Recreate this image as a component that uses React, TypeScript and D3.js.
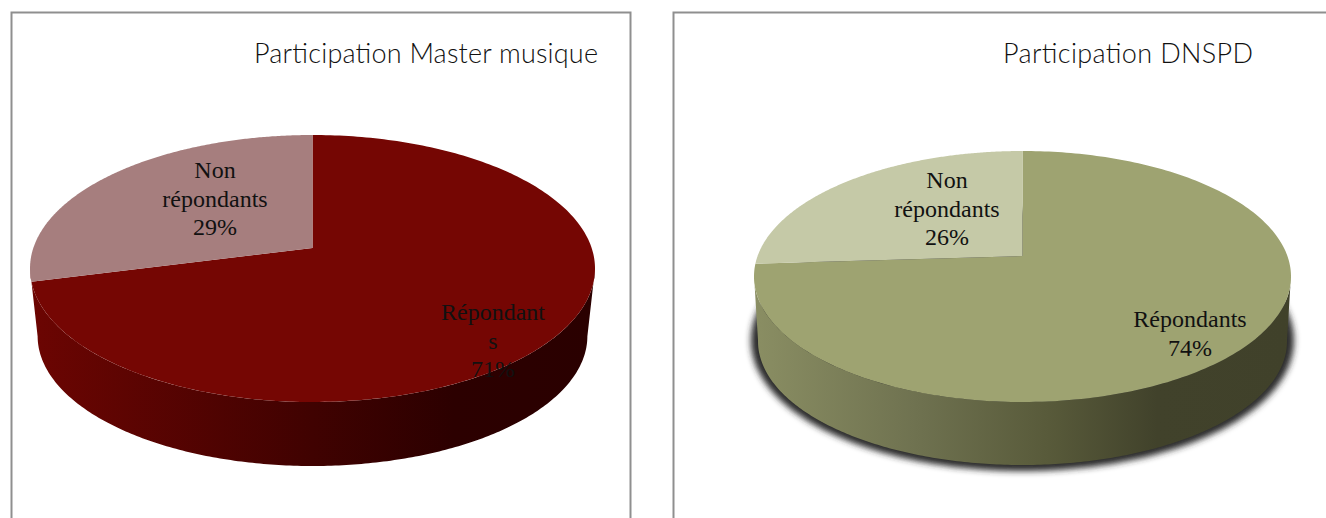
import React from "react";
import * as d3 from "d3";

// Values
const segments = ["Répondants", "Non répondants"];
const masterValues = [71, 29];
const dnspdValues = [74, 26];
const masterLabels = [["Répondant", "s", "71%"], ["Non", "répondants", "29%"]];
const dnspdLabels = [["Répondants", "74%"], ["Non", "répondants", "26%"]];

const WIDTH = 1326;
const HEIGHT = 518;
const SERIF = "'Liberation Serif', serif";
const TITLE_FONT = "Lato, 'Open Sans', sans-serif";

// Layout of the two tilted pies (apex = projected centre of the top face)
const masterPie = {
  id: "master",
  title: "Participation Master musique",
  titleX: 254,
  titleWidth: 344,
  titleY: 63,
  cx: 312.5,
  back: 135,
  apex: 248,
  front: 402,
  rx: 282.5,
  wallBottom: 466,
  wallScale: 0.973,
  colors: ["#750603", "#a67e7e"],
  wallStops: [["0%", "#6c0502"], ["50%", "#400201"], ["75%", "#2c0000"], ["100%", "#2a0000"]],
  shadow: false,
  labelPos: [[493, 320], [215, 178]],
};
const dnspdPie = {
  id: "dnspd",
  title: "Participation DNSPD",
  titleX: 1003,
  titleWidth: 250,
  titleY: 63,
  cx: 1022.5,
  back: 151,
  apex: 256,
  front: 402,
  rx: 268.5,
  wallBottom: 465,
  wallScale: 0.985,
  colors: ["#9ea371", "#c5c9a7"],
  wallStops: [["0%", "#8a8e63"], ["30%", "#6f7250"], ["55%", "#585a3a"], ["75%", "#41422b"], ["100%", "#40412a"]],
  shadow: true,
  labelPos: [[1190, 327], [947, 188]],
};

// Perspective projection of the unit circle: v = -1 back, v = 1 front
function projector(p: typeof masterPie) {
  const c = (2 * p.apex - p.back - p.front) / (p.front - p.back);
  const a = p.front + p.front * c - p.apex;
  const k = p.rx * Math.sqrt(1 - c * c);
  return (theta: number) => {
    const u = Math.sin(theta);
    const v = -Math.cos(theta);
    const w = 1 + c * v;
    return { dx: (k * u) / w, y: (a * v + p.apex) / w };
  };
}

const line = d3.line().curve(d3.curveLinear);
const samples = (from: number, to: number) =>
  d3.range(0, 241).map((i) => from + ((to - from) * i) / 240);

function TiltedPie({ p, values, labels }: { p: typeof masterPie; values: number[]; labels: string[][] }) {
  const at = projector(p);
  const arcs = d3.pie<number>().sort(null)(values);

  const top = (t: number): [number, number] => {
    const q = at(t);
    return [p.cx + q.dx, q.y];
  };
  const offset = p.wallBottom - (p.apex + (p.front - p.apex) * p.wallScale);
  const bottom = (t: number): [number, number] => {
    const q = at(t);
    return [p.cx + q.dx * p.wallScale, p.apex + offset + (q.y - p.apex) * p.wallScale];
  };

  // visible wall runs between the widest points of the two ellipses
  const full = samples(0, Math.PI * 2);
  const span = (fn: (t: number) => [number, number]) => {
    const right = d3.greatestIndex(full, (t) => fn(t)[0]);
    const left = d3.leastIndex(full, (t) => fn(t)[0]);
    return samples(full[right], full[left]).map(fn);
  };
  const wall = [...span(top), ...span(bottom).reverse()];
  const x0 = p.cx - p.rx;
  const x1 = p.cx + p.rx;

  return (
    <g>
      <defs>
        <linearGradient id={`wall-${p.id}`} gradientUnits="userSpaceOnUse" x1={x0} x2={x1} y1={0} y2={0}>
          {p.wallStops.map(([o, col]) => (
            <stop key={o} offset={o} stopColor={col} />
          ))}
        </linearGradient>
        <filter id={`blur-${p.id}`} x="-10%" y="-20%" width="120%" height="140%">
          <feGaussianBlur stdDeviation={3.4} />
        </filter>
      </defs>
      {/* soft shadow follows the lower rim only, so it has no shoulders */}
      {p.shadow && (
        <path
          d={line(full.map(bottom)) + "Z"}
          fill="#2a2a2a"
          stroke="#2a2a2a"
          strokeWidth={14}
          filter={`url(#blur-${p.id})`}
          transform="translate(0,-1)"
        />
      )}
      <path d={line(wall) + "Z"} fill={`url(#wall-${p.id})`} />
      {arcs.map((d, i) => (
        <path
          key={segments[i]}
          d={line([[p.cx, p.apex], ...samples(d.startAngle, d.endAngle).map(top)]) + "Z"}
          fill={p.colors[i]}
        />
      ))}
      {labels.map((rows, i) => (
        <text key={i} fontFamily={SERIF} fontSize={24} fill="#111" textAnchor="middle">
          {rows.map((row, j) => (
            <tspan key={j} x={p.labelPos[i][0]} y={p.labelPos[i][1] + j * 28.5}>
              {row}
            </tspan>
          ))}
        </text>
      ))}
      <text
        x={p.titleX}
        y={p.titleY}
        fontFamily={TITLE_FONT}
        fontWeight={300}
        fontSize={27}
        fill="#111"
        textLength={p.titleWidth}
        lengthAdjust="spacing"
      >
        {p.title}
      </text>
    </g>
  );
}

export default function App() {
  return (
    <svg
      width={WIDTH}
      height={HEIGHT}
      viewBox={`0 0 ${WIDTH} ${HEIGHT}`}
      style={{ position: "absolute", left: 0, top: 0, display: "block", background: "#fff" }}
    >
      {/* chart frames, cut off by the crop at the bottom and right */}
      <path d="M11.5,518V12.5H630.5V518" fill="none" stroke="#8f8f8f" strokeWidth={2} />
      <path d="M673.5,518V12.5H1326" fill="none" stroke="#8f8f8f" strokeWidth={2} />
      <TiltedPie p={masterPie} values={masterValues} labels={masterLabels} />
      <TiltedPie p={dnspdPie} values={dnspdValues} labels={dnspdLabels} />
    </svg>
  );
}
